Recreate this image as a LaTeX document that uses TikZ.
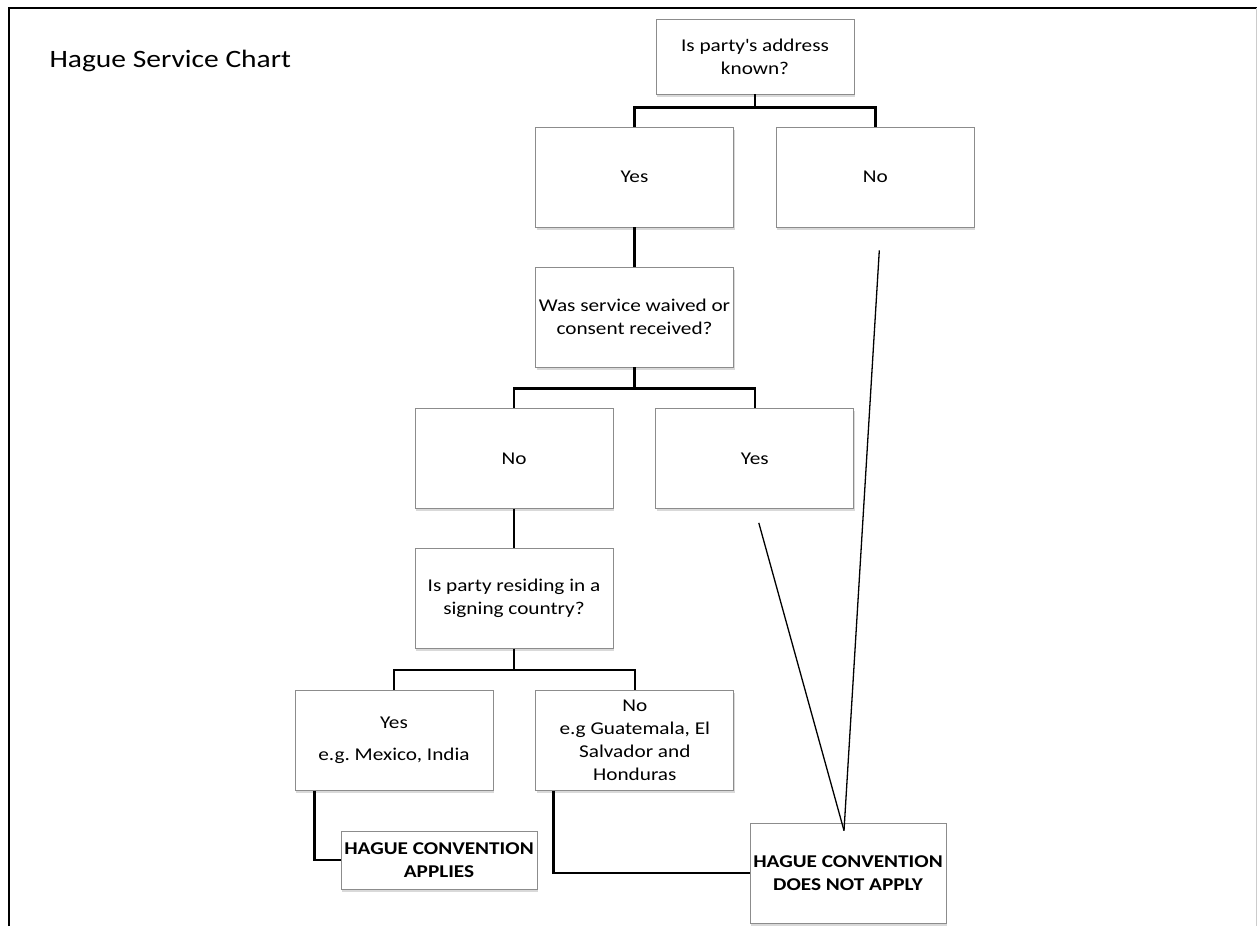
\documentclass[tikz,border=0pt]{standalone}
\usepackage{fontspec}
\setmainfont{Carlito}[FakeStretch=1.18]
\usetikzlibrary{positioning, shadows}
\frenchspacing

\tikzset{
  box/.style={draw=black!45, fill=white, line width=0.8pt, minimum width=198pt, minimum height=100pt, inner sep=2pt, align=center, font=\fontsize{18}{23}\selectfont, drop shadow={opacity=0.3, shadow xshift=1pt, shadow yshift=-2.5pt}},
  result/.style={box, minimum width=196pt, font=\bfseries\fontsize{18}{23}\selectfont},
  branch/.style={line width=2.5pt},
  slant/.style={line width=1.3pt}
}

\begin{document}
\begin{tikzpicture}[x=1pt, y=-1pt]
\useasboundingbox (0,0) rectangle (1257,926);
\draw[line width=2.2pt] (9,926) -- (9,8) -- (1257,8) ;
\draw[black!20, line width=1pt] (1256,8) -- (1256,926) ;

\node[anchor=base west, font=\fontsize{25}{30}\selectfont] at (46,67) (label1) {Hague Service Chart} ;

\node[box, minimum height=75pt] at (755,56.5) (ask1) {Is party\textquotesingle s address\\known?} ;
\node[box] at (634.5,177) (yes1) {Yes} ;
\node[box, right = 42pt of yes1] (no1) {No} ;
\node[box] at (634.5,317) (ask2) {Was service waived or\\consent received?} ;
\node[box] at (514,458.5) (no2) {No} ;
\node[box, right = 42pt of no2] (yes2) {Yes} ;
\node[box] at (514,598.5) (ask3) {Is party residing in a\\signing country?} ;
\node[box] at (394,740.5) (yes3) {Yes\\[9pt]e.g. Mexico, India} ;
\node[box, right = 42pt of yes3] (no3) {No\\e.g Guatemala, El\\Salvador and\\Honduras} ;
\node[result, minimum height=58pt] at (439,860) (result1) {HAGUE CONVENTION\\APPLIES} ;
\node[result] at (848,873) (result2) {HAGUE CONVENTION\\DOES NOT APPLY} ;

\draw[branch] (ask1.south) -- ++(0,13) -| (yes1.north) ;
\draw[branch] (ask1.south) -- ++(0,13) -| (no1.north) ;
\draw[branch] (yes1.south) -- (ask2.north) ;
\draw[branch] (ask2.south) -- ++(0,21) -| (no2.north) ;
\draw[branch] (ask2.south) -- ++(0,21) -| (yes2.north) ;
\draw[branch] (no2.south) -- (ask3.north) ;
\draw[branch] (ask3.south) -- ++(0,21) -| (yes3.north) ;
\draw[branch] (ask3.south) -- ++(0,21) -| (no3.north) ;
\draw[branch] ([xshift=20pt]yes3.south west) |- (result1.west) ;
\draw[branch] ([xshift=18pt]no3.south west) |- (result2.west) ;

\coordinate (tip) at ([xshift=-4pt,yshift=-8pt]result2.north) ;
\coordinate (from1) at ([xshift=4pt,yshift=-23pt]no1.south) ;
\coordinate (from2) at ([xshift=4pt,yshift=-14pt]yes2.south) ;
\draw[slant] (from1) -- (tip) ;
\draw[slant] (from2) -- (tip) ;
\end{tikzpicture}
\end{document}
